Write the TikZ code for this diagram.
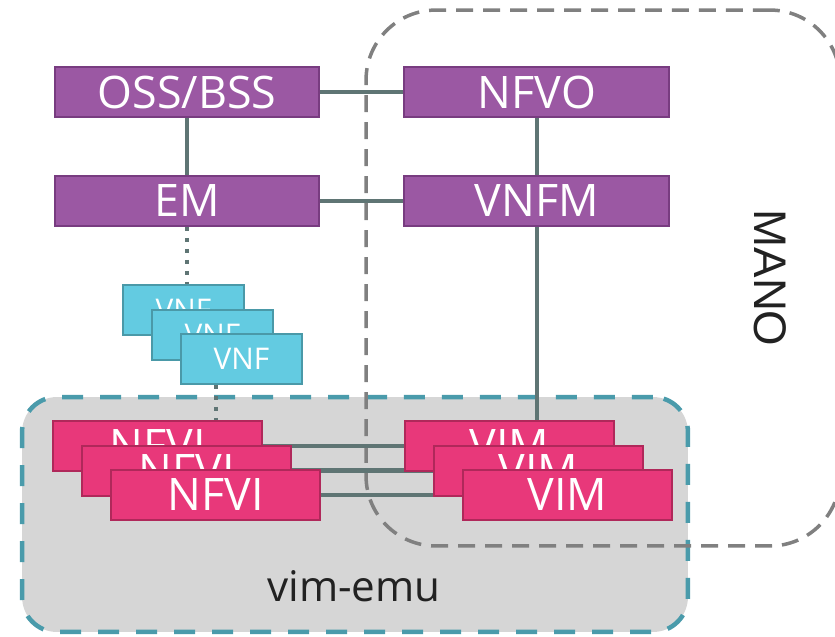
\documentclass[tikz,border=0pt]{standalone}
\usepackage{fontspec}
\setmainfont{Open Sans}
\newfontfamily\manofont{Liberation Sans}
\usetikzlibrary{positioning, backgrounds}
\definecolor{mgmtpurple}{RGB}{155,88,163}
\definecolor{mgmtborder}{RGB}{120,60,128}
\definecolor{infrapink}{RGB}{232,56,122}
\definecolor{infraborder}{RGB}{176,40,90}
\definecolor{vnfcyan}{RGB}{99,203,225}
\definecolor{vnfborder}{RGB}{74,153,168}
\definecolor{emugray}{RGB}{214,214,214}
\definecolor{emuteal}{RGB}{74,155,171}
\definecolor{linkgray}{RGB}{95,117,116}
\definecolor{manogray}{RGB}{128,128,128}
\definecolor{labelgray}{RGB}{34,34,34}

\begin{document}
\begin{tikzpicture}[
    x=0.02cm, y=-0.02cm,
    mgmt/.style={draw=mgmtborder, line width=0.04cm, fill=mgmtpurple, text=white,
                 minimum width=5.3cm, minimum height=1cm, inner sep=0pt,
                 font=\fontsize{25.5}{29}\selectfont},
    infra/.style={draw=infraborder, line width=0.04cm, fill=infrapink, text=white,
                  minimum width=4.18cm, minimum height=1cm, inner sep=0pt,
                  font=\fontsize{25.5}{29}\selectfont},
    vnfbox/.style={draw=vnfborder, line width=0.04cm, fill=vnfcyan, text=white,
                   minimum width=2.44cm, minimum height=1cm, inner sep=0pt,
                   font=\fontsize{17}{20}\selectfont},
    link/.style={draw=linkgray, line width=0.09cm},
    dotlink/.style={draw=linkgray, line width=0.08cm, dash pattern=on 0.08cm off 0.14cm},
    emubox/.style={draw=emuteal, fill=emugray, line width=0.09cm, inner sep=0pt,
                   dash pattern=on 0.42cm off 0.34cm, rounded corners=0.7cm},
    manobox/.style={draw=manogray, line width=0.07cm, inner sep=0pt,
                    dash pattern=on 0.34cm off 0.2cm, rounded corners=1.4cm},
  ]
    \useasboundingbox (0,0) rectangle (835,636);

    % management blocks
    \node[mgmt] (oss) at (187,92) {OSS/BSS};
    \node[mgmt, right=1.66cm of oss] (nfvo) {NFVO};
    \node[mgmt, below=1.14cm of oss] (em) {EM};
    \node[mgmt, below=1.14cm of nfvo] (vnfm) {VNFM};

    % stacked VNFs
    \node[vnfbox] (vnf1) at (183.5,310) {VNF};
    \node[vnfbox] (vnf2) at ([shift={(29,24.5)}]vnf1) {VNF};
    \node[vnfbox] (vnf3) at ([shift={(29,24.5)}]vnf2) {VNF};

    % stacked NFVI / VIM
    \node[infra] (nfvi1) at (157.5,446) {NFVI};
    \node[infra, right=2.82cm of nfvi1] (vim1) {VIM};
    \node[infra] (nfvi2) at ([shift={(29,24.5)}]nfvi1) {NFVI};
    \node[infra] (vim2) at ([shift={(29,24.5)}]vim1) {VIM};
    \node[infra] (nfvi3) at ([shift={(29,24.5)}]nfvi2) {NFVI};
    \node[infra] (vim3) at ([shift={(29,24.5)}]vim2) {VIM};

    \node[font=\fontsize{24}{28}\selectfont, text=labelgray, anchor=base] (emulabel) at (354,601) {vim-emu};
    \node[font=\manofont\fontsize{26}{30}\selectfont, text=labelgray, rotate=-90] (manolabel) at (770,278) {MANO};

    \begin{scope}[on background layer]
      \node[emubox, minimum width=13.32cm, minimum height=4.7cm] (vimemu) at (355,514.5) {};
      \node[manobox, minimum width=9.48cm, minimum height=10.72cm] (mano) at (603,278) {};

      \draw[link] (oss) -- (nfvo);
      \draw[link] (oss) -- (em);
      \draw[link] (em) -- (vnfm);
      \draw[link] (nfvo) -- (vnfm);
      \draw[link] (vnfm) -- (vnfm |- vim1.north);
      \draw[link] (nfvi1) -- (vim1);
      \draw[link] (nfvi2) -- (vim2);
      \draw[link] (nfvi3) -- (vim3);
      \draw[dotlink] (em) -- (em |- vnf1.north);
      \draw[dotlink] (vnf3.south -| nfvi3) -- (nfvi1.north -| nfvi3);
    \end{scope}
  \end{tikzpicture}
\end{document}
